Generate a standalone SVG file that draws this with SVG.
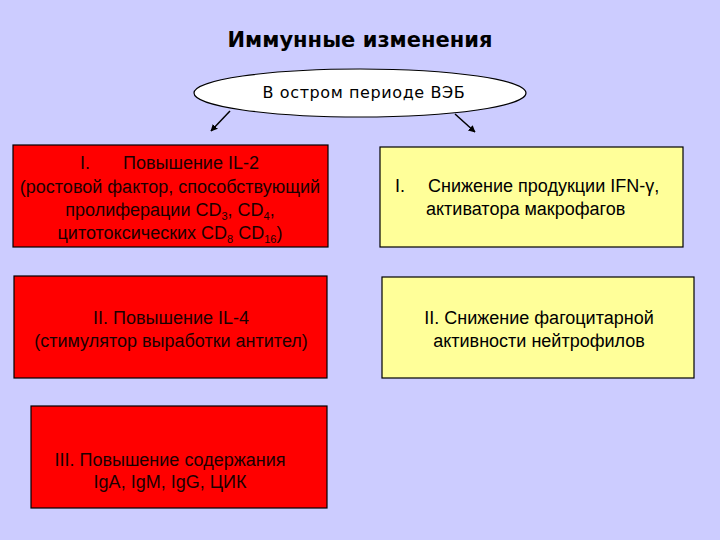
<svg xmlns="http://www.w3.org/2000/svg" width="720" height="540" viewBox="0 0 720 540">
<defs>
<style>
.bg{fill:#CCCCFF}
.red rect{fill:#FF0000;stroke:#000;stroke-width:1.2}
.yel rect{fill:#FFFF99;stroke:#000;stroke-width:1.2}
.t{font-family:"Liberation Sans",Arial,sans-serif;font-size:18px;fill:#1a0000;text-anchor:middle}
.ty{font-family:"Liberation Sans",Arial,sans-serif;font-size:18px;fill:#000}
.sub{font-size:11px}
.title{font-family:"DejaVu Sans",sans-serif;font-weight:bold;font-size:21px;fill:#000;text-anchor:middle}
.oval{font-family:"DejaVu Sans",sans-serif;font-size:16px;letter-spacing:0.6px;fill:#000;text-anchor:middle}
.conn line{stroke:#000;stroke-width:1.5;marker-end:url(#ah)}
</style>
<marker id="ah" viewBox="0 0 10 10" refX="9" refY="5" markerWidth="7" markerHeight="7" orient="auto" markerUnits="userSpaceOnUse">
<path d="M0,0 L10,5 L0,10 z" fill="#000"/>
</marker>
</defs>
<rect class="bg" x="0" y="0" width="720" height="540"/>
<g id="title"><text class="title" x="360" y="47">Иммунные изменения</text></g>
<g id="oval">
<ellipse cx="360" cy="93" rx="166" ry="24" fill="#fff" stroke="#000" stroke-width="1.2"/>
<text class="oval" x="364" y="98">В остром периоде ВЭБ</text>
</g>
<g class="conn" id="connectors">
<line x1="230" y1="111" x2="211" y2="131"/>
<line x1="455" y1="114" x2="475" y2="132"/>
</g>
<g id="red1" class="red">
<rect x="13" y="145" width="315" height="102"/>
<text class="t" x="85" y="169">I.</text>
<text class="t" x="191" y="169">Повышение IL-2</text>
<text class="t" x="170" y="193">(ростовой фактор, способствующий</text>
<text class="t" x="170" y="216">пролиферации CD<tspan class="sub" dy="4">3</tspan><tspan dy="-4">, CD</tspan><tspan class="sub" dy="4">4</tspan><tspan dy="-4">,</tspan></text>
<text class="t" x="170" y="239">цитотоксических CD<tspan class="sub" dy="4">8</tspan><tspan dy="-4"> CD</tspan><tspan class="sub" dy="4">16</tspan><tspan dy="-4">)</tspan></text>
</g>
<g id="yel1" class="yel">
<rect x="380" y="147" width="303" height="100"/>
<text class="ty" x="395" y="192">I.</text>
<text class="ty" x="428" y="192">Снижение продукции IFN-γ,</text>
<text class="ty" x="426" y="215">активатора макрофагов</text>
</g>
<g id="red2" class="red">
<rect x="14" y="276" width="313" height="102"/>
<text class="t" x="171" y="324">II. Повышение IL-4</text>
<text class="t" x="171" y="347">(стимулятор выработки антител)</text>
</g>
<g id="yel2" class="yel">
<rect x="382" y="277" width="312" height="101"/>
<text class="t" x="539" y="324" style="fill:#000">II. Снижение фагоцитарной</text>
<text class="t" x="539" y="347" style="fill:#000">активности нейтрофилов</text>
</g>
<g id="red3" class="red">
<rect x="31" y="406" width="296" height="102"/>
<text class="t" x="170" y="466">III. Повышение содержания</text>
<text class="t" x="170" y="488">IgA, IgM, IgG, ЦИК</text>
</g>
</svg>
